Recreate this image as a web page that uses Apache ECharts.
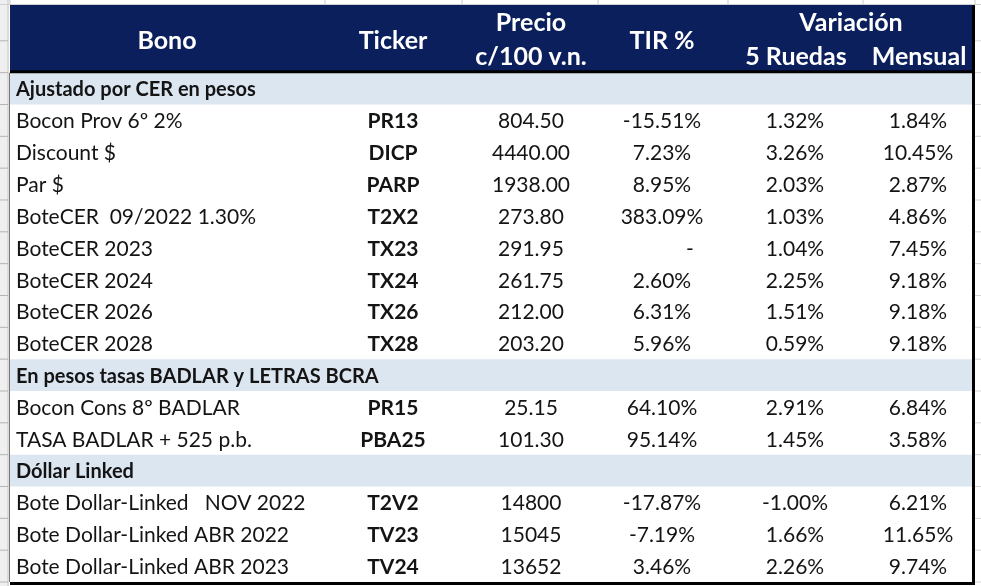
<!DOCTYPE html>
<html>
<head>
<meta charset="utf-8">
<script src="https://cdn.jsdelivr.net/npm/echarts@6/dist/echarts.min.js"></script>
<style>
html,body{margin:0;padding:0;background:#fff;}
#chart{width:981px;height:586px;}
</style>
</head>
<body>
<div id="chart"></div>
<script>
// ---- Data ----
const sections = ["Ajustado por CER en pesos", "En pesos tasas BADLAR y LETRAS BCRA", "Dóllar Linked"];
const bonos = ["Bocon Prov 6º 2%", "Discount $", "Par $", "BoteCER  09/2022 1.30%", "BoteCER 2023", "BoteCER 2024", "BoteCER 2026", "BoteCER 2028",
  "Bocon Cons 8º BADLAR", "TASA BADLAR + 525 p.b.",
  "Bote Dollar-Linked   NOV 2022", "Bote Dollar-Linked ABR 2022", "Bote Dollar-Linked ABR 2023"];
const sectionOf = [0, 0, 0, 0, 0, 0, 0, 0, 1, 1, 2, 2, 2];
const tickers = ["PR13", "DICP", "PARP", "T2X2", "TX23", "TX24", "TX26", "TX28", "PR15", "PBA25", "T2V2", "TV23", "TV24"];
const precios = [804.50, 4440.00, 1938.00, 273.80, 291.95, 261.75, 212.00, 203.20, 25.15, 101.30, 14800, 15045, 13652];
const tir = [-15.51, 7.23, 8.95, 383.09, null, 2.60, 6.31, 5.96, 64.10, 95.14, -17.87, -7.19, 3.46];
const ruedas5 = [1.32, 3.26, 2.03, 1.03, 1.04, 2.25, 1.51, 0.59, 2.91, 1.45, -1.00, 1.66, 2.26];
const mensual = [1.84, 10.45, 2.87, 4.86, 7.45, 9.18, 9.18, 9.18, 6.84, 3.58, 6.21, 11.65, 9.74];
const headerTexts = ["Bono", "Ticker", "Precio", "c/100 v.n.", "TIR %", "Variación", "5 Ruedas", "Mensual"];

// ---- Layout (axis units) ----
const TABLE_W = 962;
const HEADER_ROWS = 2.125;
const COL = {bono: 6, ticker: 383, precio: 521, tir: 652, tirDash: 680, r5: 785, mens: 908};
const HEAD_POS = [[157, -1.01], [383, -1.01], [521, -1.56], [521, -0.48], [652, -1.0], [841, -1.56], [786, -0.48], [909, -0.48]];
const COL_BOUNDS = [0, 315, 452, 588, 718, 853, 965];
const FONT = "Lato";
const DATA_FS = 21, HEAD_FS = 25, SEC_FS = 20;
const NAVY = "#0a1f5c", BAND = "#dce6f1", TXT = "#141414";

// build rows
const rows = [];
sections.forEach((s, si) => {
  rows.push({section: s});
  bonos.forEach((b, i) => { if (sectionOf[i] === si) rows.push({i}); });
});
const NROWS = rows.length;

function fmtPct(v) { return v == null ? "-" : v.toFixed(2) + "%"; }
function fmtPrice(v, i) { return sectionOf[i] === 2 ? v.toFixed(0) : v.toFixed(2); }

// band data: [rowStart, rowEnd, colorKey]
const bandData = [[-HEADER_ROWS, 0, 0]];
rows.forEach((r, k) => { if (r.section) bandData.push([k, k + 1, 1]); });

// text cell data: [x, y, text, kind, align]  kind 0=data,1=bold data,2=header,3=section
const textData = [];
headerTexts.forEach((t, j) => textData.push([HEAD_POS[j][0], HEAD_POS[j][1], t, 2, 'center']));
rows.forEach((r, k) => {
  const y = k + 0.54;
  if (r.section) { textData.push([COL.bono, y, r.section, 3, 'left']); return; }
  const i = r.i;
  textData.push([COL.bono, y, bonos[i], 0, 'left']);
  textData.push([COL.ticker, y, tickers[i], 1, 'center']);
  textData.push([COL.precio, y, fmtPrice(precios[i], i), 0, 'center']);
  if (tir[i] == null) textData.push([COL.tirDash, y, "-", 0, 'center']);
  else textData.push([COL.tir, y, fmtPct(tir[i]), 0, 'center']);
  textData.push([COL.r5, y, fmtPct(ruedas5[i]), 0, 'center']);
  textData.push([COL.mens, y, fmtPct(mensual[i]), 0, 'center']);
});

const chart = echarts.init(document.getElementById('chart'), null, {renderer: 'canvas'});
chart.setOption({
  animation: false,
  backgroundColor: '#ffffff',
  grid: {left: 10, top: 5, width: TABLE_W, height: 577},
  xAxis: {type: 'value', min: 0, max: TABLE_W, show: false},
  yAxis: {type: 'value', min: -HEADER_ROWS, max: NROWS, inverse: true, show: false},
  series: [
    {
      type: 'custom', name: 'frame', silent: true, clip: false,
      data: [[0]],
      renderItem: function (params, api) {
        const tl = api.coord([0, -HEADER_ROWS]);
        const br = api.coord([TABLE_W, NROWS]);
        const children = [];
        children.push({type: 'rect', shape: {x: 0, y: 0, width: tl[0] - 1, height: 586}, style: {fill: '#efefef'}});
        children.push({type: 'line', shape: {x1: tl[0] - 2, y1: 0, x2: tl[0] - 2, y2: 586}, style: {stroke: '#c6c6c6', lineWidth: 1}});
        for (let k = -1; k <= NROWS; k++) {
          const p = api.coord([0, k]);
          children.push({type: 'line', shape: {x1: 0, y1: p[1], x2: tl[0] - 2, y2: p[1]}, style: {stroke: '#b4b4b4', lineWidth: 1}});
          children.push({type: 'line', shape: {x1: br[0] + 3, y1: p[1], x2: 981, y2: p[1]}, style: {stroke: '#d4d4d4', lineWidth: 1}});
        }
        COL_BOUNDS.forEach(c => {
          const p = api.coord([c, 0]);
          children.push({type: 'line', shape: {x1: p[0], y1: 0, x2: p[0], y2: tl[1]}, style: {stroke: '#c8c8c8', lineWidth: 1}});
        });
        children.push({type: 'line', shape: {x1: 0, y1: tl[1] - 0.5, x2: 981, y2: tl[1] - 0.5}, style: {stroke: '#d0d0d0', lineWidth: 1}});
        return {type: 'group', children: children};
      },
      z: 1
    },
    {
      type: 'custom', name: 'bands', silent: true,
      data: bandData,
      renderItem: function (params, api) {
        const a = api.coord([0, api.value(0)]);
        const b = api.coord([TABLE_W, api.value(1)]);
        return {type: 'rect', shape: {x: a[0], y: a[1], width: b[0] - a[0], height: b[1] - a[1]},
          style: {fill: api.value(2) === 0 ? NAVY : BAND}};
      },
      z: 2
    },
    {
      type: 'custom', name: 'borders', silent: true, clip: false,
      data: [[0]],
      renderItem: function (params, api) {
        const tl = api.coord([0, -HEADER_ROWS]);
        const h0 = api.coord([0, 0]);
        const br = api.coord([TABLE_W, NROWS]);
        return {type: 'group', children: [
          {type: 'line', shape: {x1: tl[0], y1: h0[1] - 1, x2: br[0], y2: h0[1] - 1}, style: {stroke: '#000', lineWidth: 3}},
          {type: 'line', shape: {x1: br[0] + 1.5, y1: tl[1], x2: br[0] + 1.5, y2: br[1] + 3}, style: {stroke: '#000', lineWidth: 3}},
          {type: 'line', shape: {x1: tl[0], y1: br[1] + 1.5, x2: br[0] + 3, y2: br[1] + 1.5}, style: {stroke: '#000', lineWidth: 3}},
          {type: 'line', shape: {x1: tl[0] - 0.5, y1: h0[1], x2: tl[0] - 0.5, y2: br[1]}, style: {stroke: '#7a7a7a', lineWidth: 1}}
        ]};
      },
      z: 4
    },
    {
      type: 'custom', name: 'cells', silent: true,
      data: textData,
      renderItem: function (params, api) {
        const d = textData[params.dataIndex];
        const p = api.coord([d[0], d[1]]);
        const kind = d[3];
        const bold = kind !== 0;
        const fs = kind === 2 ? HEAD_FS : (kind === 3 ? SEC_FS : DATA_FS);
        return {type: 'text', style: {
          text: d[2], x: p[0], y: p[1],
          font: (bold ? 'bold ' : '') + fs + 'px ' + FONT,
          fill: kind === 2 ? '#ffffff' : TXT,
          textAlign: d[4], textVerticalAlign: 'middle',
          align: d[4], verticalAlign: 'middle'
        }};
      },
      z: 5
    }
  ]
});
</script>
</body>
</html>
